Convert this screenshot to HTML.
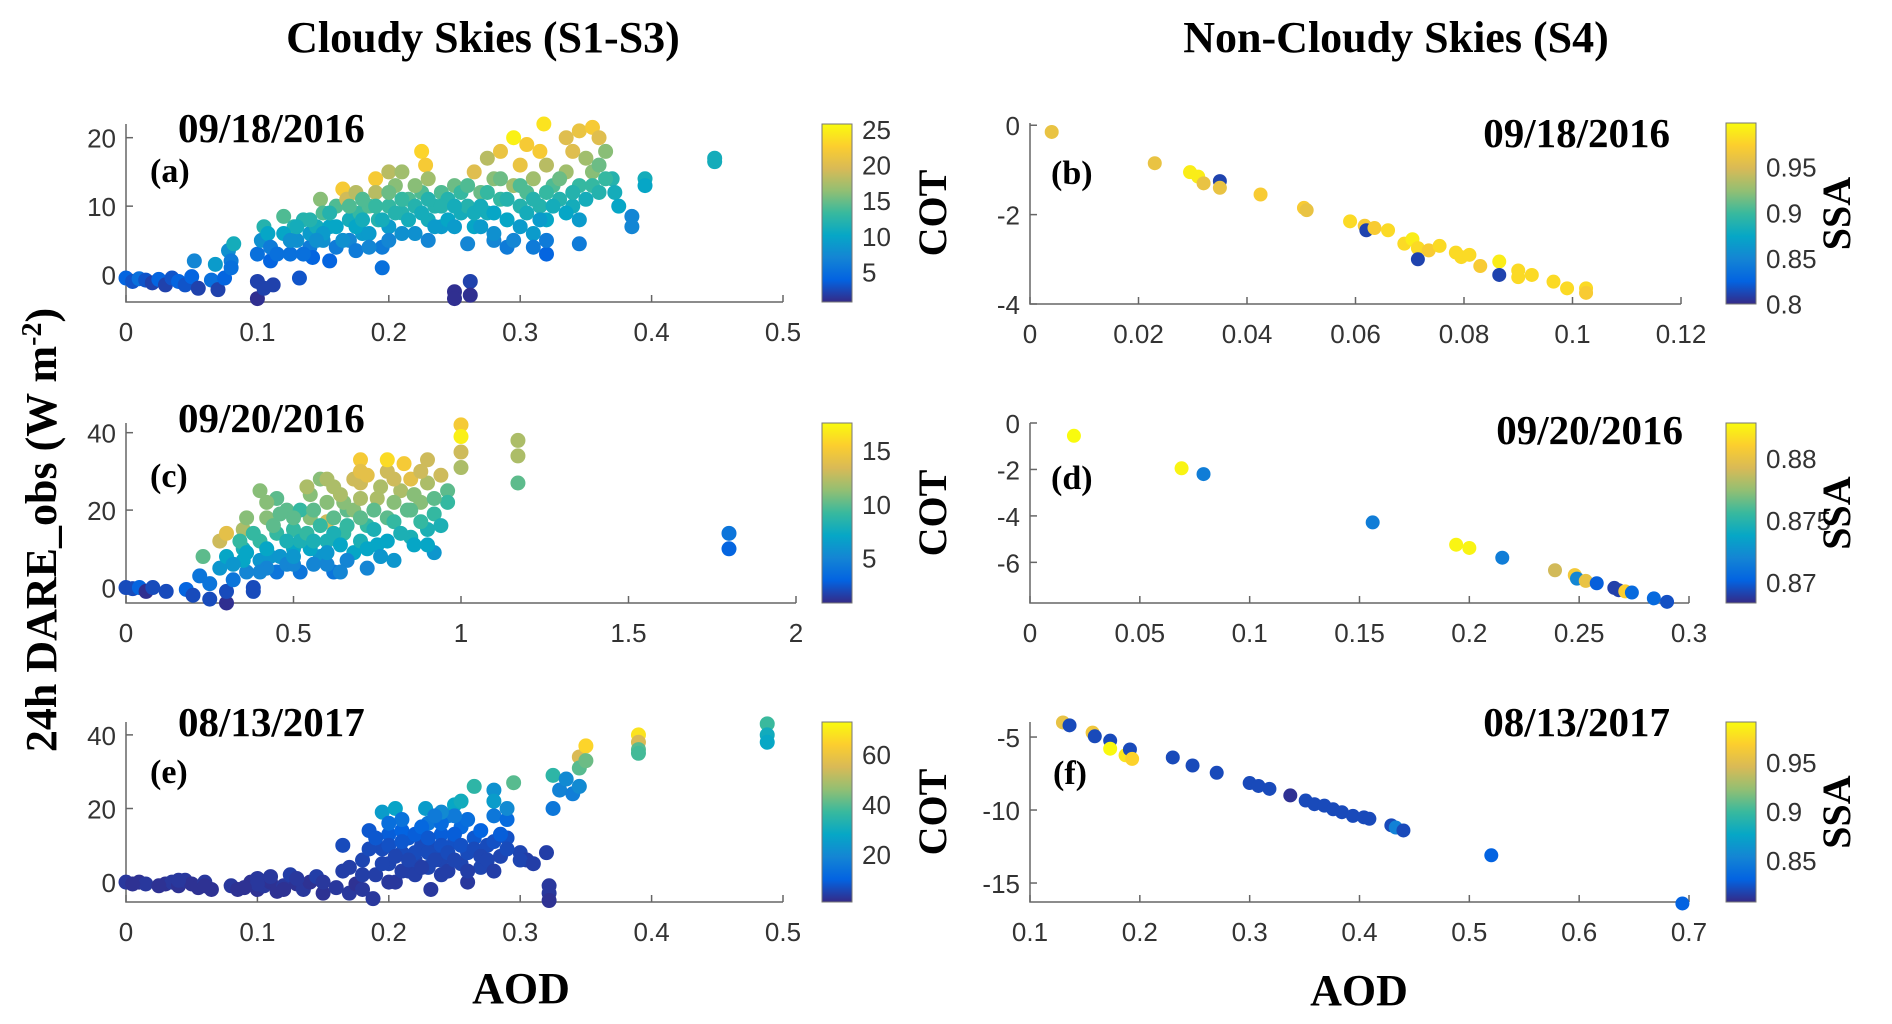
<!DOCTYPE html>
<html><head><meta charset="utf-8"><style>
html,body{margin:0;padding:0;background:#fff;}
svg{display:block;}
.tk{font-family:"Liberation Sans",sans-serif;font-size:26px;fill:#333;}
.bt{font-family:"Liberation Serif",serif;font-weight:bold;fill:#000;}
</style></head><body>
<svg id="fig" width="1892" height="1024" viewBox="0 0 1892 1024" xmlns="http://www.w3.org/2000/svg">
<text class="bt" x="483" y="52" font-size="44" text-anchor="middle">Cloudy Skies (S1-S3)</text>
<text class="bt" x="1396" y="52" font-size="44" text-anchor="middle">Non-Cloudy Skies (S4)</text>
<text class="bt" transform="translate(56,530) rotate(-90)" font-size="44" text-anchor="middle">24h DARE_obs (W m<tspan font-size="28" dy="-15">-2</tspan><tspan dy="15">)</tspan></text>
<text class="bt" x="521" y="1003" font-size="44" text-anchor="middle">AOD</text>
<text class="bt" x="1359" y="1005" font-size="44" text-anchor="middle">AOD</text>
</svg>
<script>
// Panel (a) 09/18/2016
const aodA=[0,0.005,0.01,0.015,0.02,0.025,0.03,0.035,0.04,0.045,0.05,0.052,0.055,0.065,0.068,0.07,0.075,0.078,0.08,0.082,0.08,0.1,0.1,0.105,0.1,0.103,0.105,0.108,0.11,0.11,0.112,0.12,0.125,0.128,0.13,0.132,0.135,0.14,0.14,0.142,0.145,0.148,0.15,0.15,0.155,0.155,0.16,0.16,0.165,0.168,0.17,0.17,0.175,0.178,0.18,0.185,0.19,0.19,0.192,0.195,0.195,0.2,0.2,0.2,0.205,0.21,0.21,0.215,0.22,0.225,0.228,0.225,0.23,0.23,0.235,0.24,0.24,0.245,0.25,0.25,0.25,0.255,0.255,0.26,0.26,0.262,0.262,0.265,0.265,0.27,0.275,0.275,0.28,0.28,0.285,0.285,0.29,0.29,0.295,0.295,0.3,0.3,0.305,0.305,0.31,0.31,0.315,0.315,0.32,0.32,0.318,0.32,0.325,0.33,0.335,0.335,0.34,0.34,0.345,0.345,0.345,0.35,0.355,0.355,0.36,0.365,0.37,0.372,0.375,0.385,0.385,0.395,0.395,0.448,0.448];
const dareA=[-0.5,-1,-0.6,-0.8,-1.2,-0.7,-1.5,-0.5,-1,-1.5,-0.3,2,-2,-0.8,1.5,-2.2,-0.5,3.5,2,4.5,1,-1,-3.5,-2,3,5,7,6,2,4,-1.5,8.5,3,7,5,-0.5,8,4,6,2.5,7,11,5,9,2,7,4,10,12.5,11,8,5,12,9,6,10,14,12,8,1,4,15,10,7,13,15,9,11,6,18,16,12,14,8,10,12,7,11,13,-2.5,-3.5,9,12,10,4.5,-1,-3,15,7,12,17,9,14,5,11,18,4,8,13,20,16,10,19,12,6,14,18,10,3,16,22,8,13,11,20,15,10,18,21,4.5,13,17,21.5,15,20,18,14,12,10,7,8.5,14,13,16.5,17];
const cotA=[4,3,5,3,2,4,2,3,4,3,4,7,2,5,9,2,4,8,6,11,5,2,1,2,5,8,12,10,4,6,2,14,5,12,8,3,12,6,9,4,11,16,8,14,4,10,6,14,22,19,11,7,18,13,9,14,22,18,12,5,6,18,13,9,16,17,12,14,8,23,22,14,17,11,12,14,9,12,15,1,1,11,13,12,7,2,1,20,10,15,18,11,16,7,13,21,6,10,17,25,21,12,22,14,9,17,22,12,4,18,24,10,14,12,20,17,11,20,21,6,13,17,22,16,20,16,12,11,10,7,7,11,10,11,11];
const aodA2=[0.15,0.155,0.16,0.165,0.17,0.175,0.18,0.18,0.185,0.19,0.195,0.2,0.205,0.21,0.215,0.22,0.22,0.225,0.23,0.235,0.24,0.245,0.25,0.25,0.26,0.265,0.27,0.27,0.275,0.28,0.285,0.29,0.3,0.3,0.305,0.31,0.315,0.32,0.325,0.33,0.335,0.34,0.345,0.35,0.355,0.36,0.36,0.365,0.12,0.125,0.13,0.14,0.135,0.145,0.115,0.175,0.185,0.2,0.21,0.23,0.28,0.295,0.31,0.32];
const dareA2=[6,9,7,5,10,7,11,8,6,10,8,12,9,11,8,10,13,9,11,7,10,8,10,7,13,9,10,7,12,9,14,11,7,13,9,11,8,12,10,14,9,12,8,11,13,12,16,14,6,5,7,8,3,5,3,3.5,4,5,6,5,6,5,4,5];
const cotA2=[9,12,10,8,14,10,14,11,9,13,11,15,12,13,11,12,16,11,12,9,12,10,11,9,14,11,11,9,13,10,15,12,9,14,11,12,9,13,11,15,10,12,9,11,13,12,15,13,10,8,11,12,5,8,5,6,7,7,8,7,8,7,6,6];
// Panel (c) 09/20/2016
const aodC=[0,0.02,0.04,0.06,0.08,0.12,0.18,0.2,0.22,0.23,0.25,0.25,0.28,0.28,0.3,0.3,0.3,0.32,0.35,0.35,0.36,0.38,0.38,0.4,0.4,0.42,0.43,0.45,0.45,0.48,0.5,0.5,0.52,0.55,0.55,0.58,0.6,0.6,0.62,0.62,0.65,0.66,0.68,0.7,0.7,0.72,0.72,0.75,0.75,0.78,0.78,0.8,0.82,0.83,0.85,0.85,0.88,0.9,0.9,0.92,0.92,0.96,0.96,1.0,1.0,1.0,1.0,1.17,1.17,1.17,1.8,1.8,0.55,0.65,0.45,0.58,0.85,0.3,0.4,0.52,0.35,0.48,0.62,0.7,0.8,0.42,0.68,0.6];
const dareC=[0,-0.3,0,-1,0,-1,-0.5,-2,3,8,-3,1,12,5,-4,-1,8,2,10,15,4,-1,0,12,7,18,8,14,4,20,10,15,4,24,18,8,12,17,4,26,14,20,9,33,27,16,5,23,11,30,18,7,25,32,13,28,22,33,15,9,19,25,22,42,39,35,31,38,34,27,14,10,10,22,23,28,20,14,25,20,7,12,14,12,22,5,28,6];
const cotC=[2,2,3,1,2,2,3,2,4,10,2,4,13,6,1,2,7,4,8,12,5,2,2,9,6,11,6,9,4,10,7,9,4,11,11,6,8,13,4,12,9,10,7,15,13,9,5,12,7,13,10,6,12,15,8,14,11,13,8,6,9,10,9,15,17,13,12,12,12,10,4,3,7,11,10,11,10,14,11,9,7,8,8,8,11,5,13,5];
const aodC2=[0.32,0.34,0.36,0.38,0.4,0.42,0.44,0.46,0.48,0.5,0.5,0.52,0.54,0.56,0.56,0.58,0.6,0.6,0.62,0.64,0.64,0.66,0.66,0.68,0.7,0.7,0.72,0.72,0.74,0.74,0.76,0.78,0.8,0.8,0.82,0.84,0.86,0.86,0.88,0.9,0.92,0.94,0.94,0.36,0.42,0.46,0.54,0.6,0.7,0.78,0.88,0.5,0.56,0.64,0.76,0.9];
const dareC2=[6,12,9,14,4,10,16,8,6,18,6,12,14,6,20,16,9,22,18,11,24,7,16,20,18,23,10,29,15,20,26,12,17,28,14,20,24,11,17,27,23,29,16,18,22,19,26,28,30,33,30,8,12,4,8,11];
const cotC2=[6,9,7,9,5,7,10,6,5,10,5,8,9,5,10,9,6,11,10,7,12,5,9,11,10,12,7,14,8,10,12,7,9,13,8,10,11,7,9,12,10,13,8,11,11,10,12,12,14,16,13,6,8,5,6,7];
// Panel (e) 08/13/2017
const aodE=[0,0.01,0.015,0.03,0.035,0.04,0.045,0.05,0.055,0.06,0.065,0.08,0.085,0.095,0.1,0.1,0.105,0.11,0.115,0.12,0.125,0.13,0.135,0.14,0.145,0.15,0.16,0.165,0.165,0.17,0.175,0.18,0.185,0.188,0.19,0.195,0.195,0.2,0.2,0.205,0.205,0.21,0.215,0.215,0.22,0.225,0.228,0.23,0.23,0.232,0.235,0.24,0.24,0.245,0.25,0.25,0.255,0.255,0.26,0.265,0.265,0.27,0.275,0.28,0.28,0.285,0.29,0.29,0.295,0.3,0.305,0.32,0.322,0.322,0.322,0.325,0.325,0.33,0.335,0.34,0.345,0.345,0.345,0.35,0.35,0.39,0.39,0.39,0.39,0.488,0.488,0.488,0.2,0.21,0.18,0.24,0.26,0.22];
const dareE=[0,0,-0.5,-0.5,0,-1,0.5,-0.5,-1.5,0,-2,-1,-2,0,-2,1,-1,0,-2.5,-1,2,-0.5,-2,0,1.5,-3,-1.5,3,10,-3,-0.5,6,14,-4.5,2,9,19,5,13,20,0,8,3,12,6,10,20,16,4,-2,9,13,6,18,11,21,5,15,8,26,12,4,10,18,25,7,12,17,27,8,6,8,-1,-3,-5,20,29,25,28,24,34,31,26,37,33,40,38,36,35,43,40,38,0,3,-2,2,0,8];
const cotE=[3,2,3,2,3,2,3,2,2,3,2,3,2,2,2,3,3,2,2,3,4,2,3,2,4,2,3,4,6,3,2,5,8,3,4,6,25,5,9,27,3,6,4,8,5,6,25,15,5,3,6,9,5,18,7,28,5,12,6,35,8,5,6,15,22,5,7,12,40,5,4,4,3,3,2,15,35,18,20,17,55,40,20,65,42,68,55,40,38,37,30,28,3,4,3,4,3,6];
const aodE2=[0.17,0.18,0.185,0.19,0.195,0.2,0.205,0.21,0.21,0.215,0.22,0.22,0.225,0.225,0.23,0.23,0.235,0.24,0.24,0.245,0.245,0.25,0.25,0.255,0.26,0.26,0.265,0.27,0.27,0.275,0.28,0.28,0.285,0.29,0.3,0.31,0.25,0.24,0.21,0.2,0.235,0.29,0.28,0.255,0.15,0.13,0.12,0.11,0.1,0.09,0.06,0.04,0.025,0.005];
const dareE2=[4,2,9,12,5,10,7,14,11,6,13,2,4,15,8,12,6,10,16,3,8,13,6,10,17,3,9,14,7,6,11,3,13,9,6,5,18,19,17,16,18,20,22,22,0,1,-2,1.5,-0.5,-1.5,-1,0.5,-1,-0.5];
const cotE2=[4,4,6,8,5,7,5,10,8,5,9,4,4,11,6,8,5,7,12,4,6,9,5,7,13,4,6,10,5,5,7,4,9,6,5,4,16,20,14,13,16,20,25,30,3,3,2,3,3,2,2,3,2,2];
// Panel (b) 09/18/2016 non-cloudy
const aodB=[0.004,0.023,0.0295,0.031,0.032,0.035,0.035,0.0425,0.0505,0.051,0.059,0.0617,0.062,0.0635,0.066,0.069,0.0705,0.0715,0.0715,0.0735,0.0755,0.0785,0.0795,0.081,0.083,0.0865,0.0865,0.09,0.09,0.0925,0.0965,0.099,0.1025,0.1025];
const dareB=[-0.15,-0.85,-1.05,-1.15,-1.3,-1.25,-1.4,-1.55,-1.85,-1.9,-2.15,-2.25,-2.35,-2.3,-2.35,-2.65,-2.55,-2.75,-3.0,-2.8,-2.7,-2.85,-2.95,-2.9,-3.15,-3.05,-3.35,-3.25,-3.4,-3.35,-3.5,-3.65,-3.65,-3.75];
const ssaB=[0.96,0.96,0.99,0.99,0.96,0.81,0.96,0.97,0.97,0.96,0.98,0.97,0.81,0.97,0.98,0.98,0.99,0.98,0.81,0.97,0.98,0.98,0.98,0.98,0.97,0.99,0.81,0.98,0.98,0.98,0.98,0.98,0.98,0.97];
// Panel (d) 09/20/2016 non-cloudy
const aodD=[0.02,0.069,0.079,0.156,0.194,0.2,0.215,0.239,0.248,0.249,0.253,0.258,0.266,0.268,0.271,0.274,0.284,0.29];
const dareD=[-0.55,-1.95,-2.2,-4.28,-5.24,-5.38,-5.8,-6.34,-6.55,-6.7,-6.8,-6.9,-7.1,-7.2,-7.25,-7.3,-7.55,-7.7];
const ssaD=[0.8828,0.8825,0.8715,0.8715,0.8825,0.8825,0.8715,0.879,0.8805,0.872,0.880,0.870,0.869,0.869,0.881,0.8705,0.8705,0.8695];
// Panel (f) 08/13/2017 non-cloudy
const aodF=[0.13,0.136,0.157,0.159,0.173,0.173,0.187,0.191,0.193,0.23,0.248,0.27,0.3,0.308,0.318,0.337,0.351,0.359,0.368,0.376,0.384,0.394,0.404,0.409,0.429,0.433,0.44,0.52,0.694];
const dareF=[-4.0,-4.2,-4.7,-4.95,-5.25,-5.8,-6.25,-5.85,-6.5,-6.4,-6.95,-7.45,-8.15,-8.35,-8.55,-9.0,-9.35,-9.6,-9.7,-9.95,-10.15,-10.4,-10.5,-10.6,-11.05,-11.2,-11.4,-13.1,-16.4];
const ssaF=[0.955,0.82,0.96,0.82,0.82,0.99,0.98,0.82,0.97,0.82,0.82,0.82,0.82,0.82,0.82,0.81,0.82,0.82,0.82,0.82,0.82,0.82,0.82,0.82,0.82,0.85,0.82,0.83,0.83];
// tick labels
const xTicksA=[0,0.1,0.2,0.3,0.4,0.5];
const yTicksA=[0,10,20];
const cTicksA=[5,10,15,20,25];
const xTicksC=[0,0.5,1,1.5,2];
const yTicksC=[0,20,40];
const cTicksC=[5,10,15];
const xTicksE=[0,0.1,0.2,0.3,0.4,0.5];
const yTicksE=[0,20,40];
const cTicksE=[20,40,60];
const xTicksB=[0,0.02,0.04,0.06,0.08,0.1,0.12];
const yTicksB=[-4,-2,0];
const cTicksB=[0.8,0.85,0.9,0.95];
const xTicksD=[0,0.05,0.1,0.15,0.2,0.25,0.3];
const yTicksD=[-6,-4,-2,0];
const cTicksD=[0.87,0.875,0.88];
const xTicksF=[0.1,0.2,0.3,0.4,0.5,0.6,0.7];
const yTicksF=[-15,-10,-5];
const cTicksF=[0.85,0.9,0.95];

const NS='http://www.w3.org/2000/svg';
const svg=document.getElementById('fig');
const PAR=[[0,53,42,135],[0.125,3,99,225],[0.25,20,133,212],[0.375,6,167,198],[0.5,56,185,158],[0.625,146,191,115],[0.75,217,186,86],[0.875,252,206,46],[1,249,251,14]];
function parula(t){t=Math.max(0,Math.min(1,t));for(let i=1;i<PAR.length;i++){if(t<=PAR[i][0]){const a=PAR[i-1],b=PAR[i];const f=(t-a[0])/(b[0]-a[0]);return 'rgb('+Math.round(a[1]+f*(b[1]-a[1]))+','+Math.round(a[2]+f*(b[2]-a[2]))+','+Math.round(a[3]+f*(b[3]-a[3]))+')';}}return 'rgb(249,251,14)';}
function mk(tag,parent){const e=document.createElementNS(NS,tag);parent.appendChild(e);return e;}
function panel(p){
  const g=mk('g',svg);
  
  
  const sx=v=>p.x0+(v-p.xmin)/(p.xmax-p.xmin)*(p.x1-p.x0);
  const sy=v=>p.y1-(v-p.ymin)/(p.ymax-p.ymin)*(p.y1-p.y0);
  const ax=mk('path',g);
  ax.setAttribute('d','M'+p.x0+' '+p.y0+'V'+p.y1+'H'+p.x1);
  ax.setAttribute('stroke','#666');ax.setAttribute('stroke-width','1.5');ax.setAttribute('fill','none');
  
  
  p.xt.forEach(v=>{
    const X=sx(v);
    const t=mk('line',g);t.setAttribute('x1',X);t.setAttribute('x2',X);t.setAttribute('y1',p.y1);t.setAttribute('y2',p.y1-7);t.setAttribute('stroke','#666');t.setAttribute('stroke-width','1.5');
    
    
    const l=mk('text',g);l.setAttribute('class','tk');l.setAttribute('x',X);l.setAttribute('y',p.y1+39);l.setAttribute('text-anchor','middle');l.textContent=String(v);
    
    
  });
  p.yt.forEach(v=>{
    const Y=sy(v);
    const t=mk('line',g);t.setAttribute('x1',p.x0);t.setAttribute('x2',p.x0+7);t.setAttribute('y1',Y);t.setAttribute('y2',Y);t.setAttribute('stroke','#666');t.setAttribute('stroke-width','1.5');
    
    
    const l=mk('text',g);l.setAttribute('class','tk');l.setAttribute('x',p.x0-10);l.setAttribute('y',Y+10);l.setAttribute('text-anchor','end');l.textContent=(p.absY&&v!==-5)?String(Math.abs(v)):String(v);
    
    
  });
  for(let i=0;i<p.xs.length;i++){
    const c=mk('circle',g);
    c.setAttribute('cx',sx(p.xs[i]));c.setAttribute('cy',sy(p.ys[i]));c.setAttribute('r',p.r);
    c.setAttribute('fill',parula((p.cs[i]-p.cmin)/(p.cmax-p.cmin)));
    
    
  }
  const defs=mk('defs',g);const lg=mk('linearGradient',defs);lg.setAttribute('id','cg'+p.id);lg.setAttribute('x1','0');lg.setAttribute('y1','1');lg.setAttribute('x2','0');lg.setAttribute('y2','0');
  PAR.forEach(s=>{const st=mk('stop',lg);st.setAttribute('offset',s[0]);st.setAttribute('stop-color','rgb('+s[1]+','+s[2]+','+s[3]+')');});
  const cb=mk('rect',g);cb.setAttribute('x',p.cbx);cb.setAttribute('y',p.y0);cb.setAttribute('width',30);cb.setAttribute('height',p.y1-p.y0);cb.setAttribute('fill','url(#cg'+p.id+')');cb.setAttribute('stroke','#777');cb.setAttribute('stroke-width','1');
  
  
  p.ct.forEach(v=>{
    const Y=p.y1-(v-p.cmin)/(p.cmax-p.cmin)*(p.y1-p.y0);
    const l=mk('text',g);l.setAttribute('class','tk');l.setAttribute('x',p.cbx+40);l.setAttribute('y',Y+10);l.textContent=String(v);
    
    
  });
  const cl=mk('text',g);cl.setAttribute('class','bt');cl.setAttribute('font-size','40');cl.setAttribute('text-anchor','middle');
  cl.setAttribute('transform','translate('+(p.cbx+124)+','+((p.y0+p.y1)/2)+') rotate(-90)');cl.textContent=p.clabel;
  
  
  const d=mk('text',g);d.setAttribute('class','bt');d.setAttribute('font-size','41');d.setAttribute('x',p.dx);d.setAttribute('y',p.dy);d.setAttribute('text-anchor',p.da);d.textContent=p.date;
  
  
  const pl=mk('text',g);pl.setAttribute('class','bt');pl.setAttribute('font-size','34');pl.setAttribute('x',p.lx);pl.setAttribute('y',p.ly);pl.textContent='('+p.id+')';
  
  
}
panel({id:'a',x0:126,x1:783,y0:124,y1:302,xmin:0,xmax:0.5,ymin:-4,ymax:22,xs:aodA.concat(aodA2),ys:dareA.concat(dareA2),cs:cotA.concat(cotA2),cmin:0.7,cmax:25.7,xt:xTicksA,yt:yTicksA,ct:cTicksA,r:7.5,cbx:822,clabel:'COT',date:'09/18/2016',dx:178,dy:142,da:'start',lx:150,ly:182});
panel({id:'c',x0:126,x1:796,y0:423,y1:603,xmin:0,xmax:2,ymin:-4,ymax:42.5,xs:aodC.concat(aodC2),ys:dareC.concat(dareC2),cs:cotC.concat(cotC2),cmin:0.8,cmax:17.5,xt:xTicksC,yt:yTicksC,ct:cTicksC,r:7.5,cbx:822,clabel:'COT',date:'09/20/2016',dx:178,dy:432,da:'start',lx:150,ly:487});
panel({id:'e',x0:126,x1:783,y0:722,y1:902,xmin:0,xmax:0.5,ymin:-5.4,ymax:43.5,xs:aodE.concat(aodE2),ys:dareE.concat(dareE2),cs:cotE.concat(cotE2),cmin:0.8,cmax:72.8,xt:xTicksE,yt:yTicksE,ct:cTicksE,r:7.5,cbx:822,clabel:'COT',date:'08/13/2017',dx:178,dy:736,da:'start',lx:150,ly:783});
panel({id:'b',x0:1030,x1:1681,y0:123,y1:304,xmin:0,xmax:0.12,ymin:-4,ymax:0.05,xs:aodB,ys:dareB,cs:ssaB,cmin:0.7993,cmax:0.998,xt:xTicksB,yt:yTicksB,ct:cTicksB,r:7,cbx:1726,clabel:'SSA',date:'09/18/2016',dx:1670,dy:147,da:'end',lx:1051,ly:184});
panel({id:'d',x0:1030,x1:1689,y0:423,y1:603,xmin:0,xmax:0.3,ymin:-7.75,ymax:0,xs:aodD,ys:dareD,cs:ssaD,cmin:0.8683,cmax:0.8828,xt:xTicksD,yt:yTicksD,ct:cTicksD,r:7,cbx:1726,clabel:'SSA',date:'09/20/2016',dx:1683,dy:444,da:'end',lx:1051,ly:489});
panel({id:'f',x0:1030,x1:1689,y0:722,y1:902,xmin:0.1,xmax:0.7,ymin:-16.3,ymax:-3.97,xs:aodF,ys:dareF,cs:ssaF,cmin:0.807,cmax:0.991,xt:xTicksF,yt:yTicksF,ct:cTicksF,r:7,cbx:1726,clabel:'SSA',date:'08/13/2017',dx:1670,dy:736,da:'end',lx:1053,ly:784});
</script>
</body></html>
